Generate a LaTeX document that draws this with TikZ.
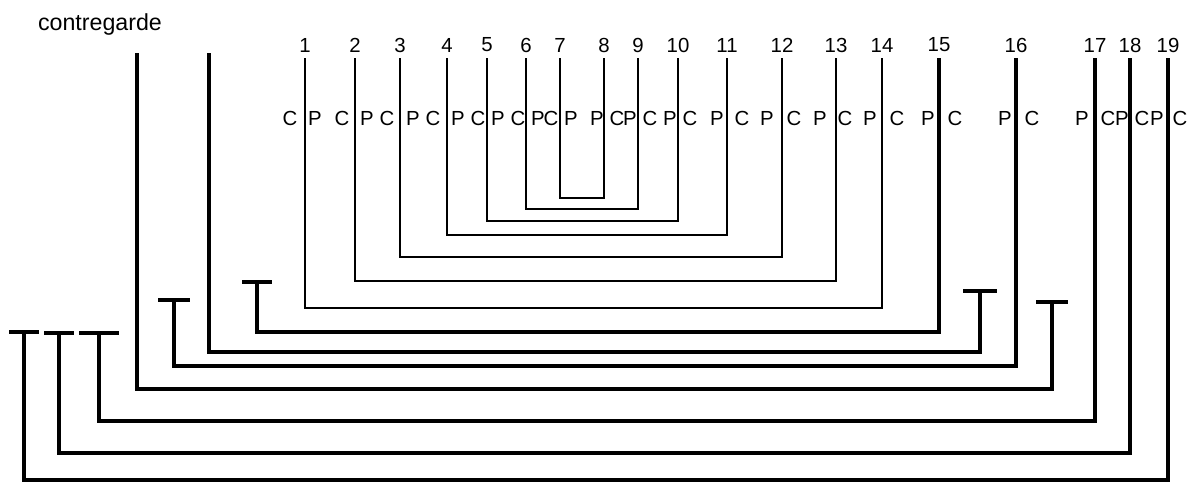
\documentclass[tikz,border=0pt]{standalone}
\usepackage{fontspec}
\setmainfont{Liberation Sans}
\usetikzlibrary{positioning}

\begin{document}
\begin{tikzpicture}[
    x=0.025cm, y=-0.025cm,
    num/.style={font=\fontsize{14.5}{16}\selectfont, inner sep=0pt},
    side/.style={font=\fontsize{14.5}{16}\selectfont, inner sep=0pt},
    title/.style={font=\fontsize{16.5}{19}\selectfont, inner sep=0pt},
    wire/.style={line width=2pt},
    heavy/.style={line width=2.9pt},
    bar/.style={line width=2.9pt}
  ]
  \useasboundingbox (0,0) rectangle (1190,483);

  % label
  \node[title] (cg) at (100,24) {contregarde};

  % numbered lines
  \foreach \n/\x in {1/305, 2/355, 3/400, 4/447, 5/487, 6/526, 7/560,
                     8/604, 9/638, 10/678, 11/727, 12/782, 13/836,
                     14/882, 15/939, 16/1016, 17/1095, 18/1130, 19/1168} {
    \node[num] (n\n) at (\x,45) {\n};
    \coordinate (t\n) at (\x,58);
  }
  \coordinate (cgA) at (137,53);
  \coordinate (cgB) at (209,53);

  % C / P
  \foreach \x/\l [count=\i] in {290/C, 315/P, 342/C, 367/P, 387/C, 413/P,
      433/C, 458/P, 478/C, 498/P, 518/C, 538/P, 551/C, 571/P, 597/P,
      617/C, 630/P, 650/C, 670/P, 690/C, 717/P, 742/C, 767/P, 794/C,
      820/P, 845/C, 870/P, 897/C, 928/P, 955/C, 1005/P, 1032/C,
      1082/P, 1108/C, 1122/P, 1142/C, 1157/P, 1180/C}
    \node[side] (s\i) at (\x,118) {\l};

  % nested pairs
  \foreach \a/\b/\y in {7/8/198, 6/9/209, 5/10/221, 4/11/235,
                        3/12/257, 2/13/281, 1/14/308}
    \draw[wire] (t\a) |- (t\b |- 0,\y) -- (t\b);

  % T ends
  \coordinate (Ta) at (257,282);
  \coordinate (Tb) at (980,291);
  \coordinate (Tc) at (174,300);
  \coordinate (Td) at (1052,302);
  \coordinate (Te) at (99,333);
  \coordinate (Tf) at (59,333);
  \coordinate (Tg) at (24,332);
  \foreach \t/\w in {Ta/15, Tb/17, Tc/16, Td/16, Te/20, Tf/15, Tg/15}
    \draw[bar] (\t) +(-\w,0) -- +(\w,0);

  % outer links
  \draw[heavy] (Ta) |- (t15 |- 0,332) -- (t15);
  \draw[heavy] (cgB) |- (Tb |- 0,352) -- (Tb);
  \draw[heavy] (Tc) |- (t16 |- 0,366) -- (t16);
  \draw[heavy] (cgA) |- (Td |- 0,389) -- (Td);
  \draw[heavy] (Te) |- (t17 |- 0,421) -- (t17);
  \draw[heavy] (Tf) |- (t18 |- 0,453) -- (t18);
  \draw[heavy] (Tg) |- (t19 |- 0,480) -- (t19);
\end{tikzpicture}
\end{document}
